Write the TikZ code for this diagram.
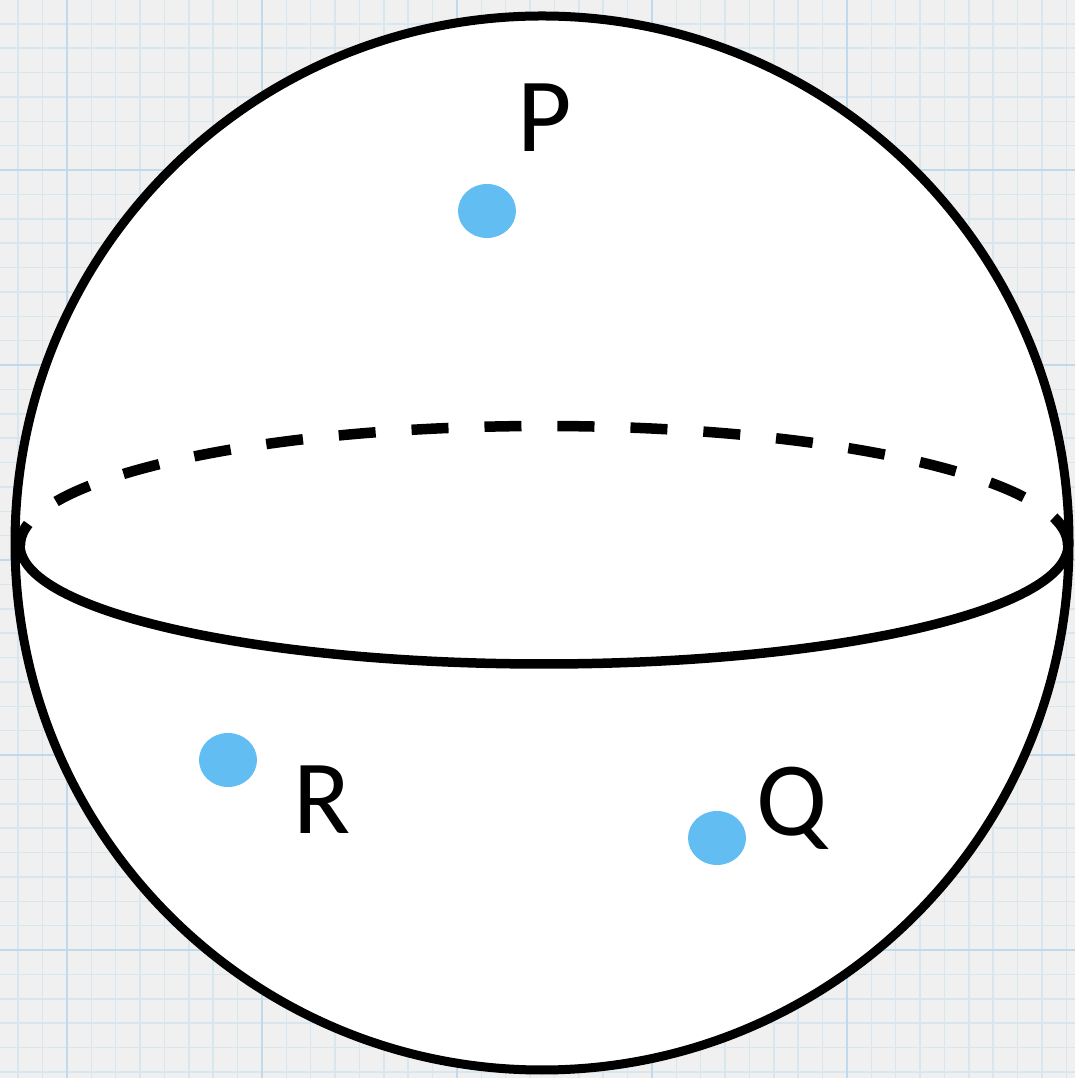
\documentclass[tikz,border=0pt]{standalone}
\usepackage{fontspec}
\setmainfont{Carlito}
\usetikzlibrary{shapes.geometric}
\definecolor{gridbg}{RGB}{240,240,240}
\definecolor{gridminor}{RGB}{216,230,240}
\definecolor{gridmajor}{RGB}{192,218,236}
\definecolor{ptblue}{RGB}{98,190,242}
\tikzset{
  outline/.style={line width=1.8mm},
  rim/.style={line width=1.9mm},
  pt/.style={ellipse,fill=ptblue,inner sep=0pt,minimum width=11.6mm,minimum height=10.8mm},
  lbl/.style={font=\fontsize{60}{61}\selectfont,inner sep=0pt,anchor=base},
}

\begin{document}
\begin{tikzpicture}[x=0.2mm,y=0.2mm,
  minor/.style={gridminor,line width=0.3mm},
  major/.style={gridmajor,line width=0.5mm},
  hidden/.style={line width=2.1mm,dash pattern=on 7.4mm off 7.2mm,dash phase=2.8mm}]

\useasboundingbox (0,0) rectangle (1075,1078);
\clip (0,0) rectangle (1075,1078);
\fill[gridbg] (0,0) rectangle (1075,1078);

% graph paper
\foreach \i in {0,...,44}{
  \draw[minor] ({18.2+24.375*\i},0) -- ++(0,1078);
  \draw[minor] (0,{1078.6-24.375*\i}) -- ++(1075,0);
}
\foreach \i in {0,...,4}{
  \draw[major] ({67+195*\i},0) -- ++(0,1078);
  \draw[major] (0,{908-195*\i}) -- ++(1075,0);
}

% sphere and equator
\coordinate (O) at (542,535);
\coordinate (E) at (544,533);
\draw[outline,fill=white] (O) circle (527);
\draw[rim] (E) ++(-524,0) arc[start angle=180,end angle=360,x radius=524,y radius=119];
\draw[hidden] (E) ++(-524,0) arc[start angle=180,end angle=0,x radius=524,y radius=119];

\node[pt] (dotP) at (487,867) {};
\node[pt] (dotR) at (228,318) {};
\node[pt] (dotQ) at (717,240) {};

\node[lbl] (P) at (545,926) {P};
\node[lbl] (R) at (322,244) {R};
\node[lbl] (Q) at (792,242) {Q};

\end{tikzpicture}
\end{document}
